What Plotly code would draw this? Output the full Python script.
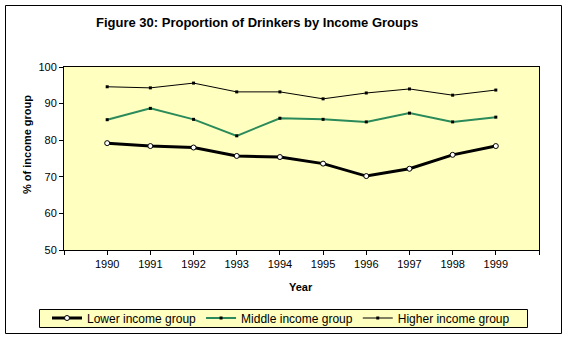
import plotly.graph_objects as go

years = [1990, 1991, 1992, 1993, 1994, 1995, 1996, 1997, 1998, 1999]
year_labels = [str(y) for y in years]
lower = [79.2, 78.4, 78.0, 75.7, 75.4, 73.6, 70.2, 72.2, 76.0, 78.4]
middle = [85.6, 88.7, 85.7, 81.2, 86.0, 85.7, 85.0, 87.4, 85.0, 86.3]
higher = [94.6, 94.3, 95.6, 93.2, 93.2, 91.3, 92.9, 94.0, 92.3, 93.7]
y_ticks = [50, 60, 70, 80, 90, 100]

FONT = "Liberation Sans, Arial, sans-serif"
W, H = 567, 340
L, R, T, B = 64, 539, 67, 250

def px(x):
    return (x - L) / (R - L)

def py(y):
    return (B - y) / (B - T)

fig = go.Figure()
fig.add_trace(go.Scatter(
    x=years, y=lower, name="Lower income group", mode="lines+markers",
    line=dict(color="black", width=3),
    marker=dict(symbol="circle", size=5, color="white", line=dict(color="black", width=1)),
))
fig.add_trace(go.Scatter(
    x=years, y=middle, name="Middle income group", mode="lines+markers",
    line=dict(color="#2a8a5a", width=2),
    marker=dict(symbol="square", size=3, color="black"),
))
fig.add_trace(go.Scatter(
    x=years, y=higher, name="Higher income group", mode="lines+markers",
    line=dict(color="black", width=1),
    marker=dict(symbol="square", size=3, color="black"),
))

fig.update_layout(
    width=W, height=H,
    margin=dict(l=L, r=W - R, t=T, b=H - B, autoexpand=False),
    paper_bgcolor="white",
    plot_bgcolor="#FFFFC0",
    font=dict(family=FONT, size=11, color="black"),
    showlegend=True,
    legend=dict(
        orientation="h", x=px(281), xanchor="center", y=py(318), yanchor="middle",
        bgcolor="rgba(0,0,0,0)", borderwidth=0,
        font=dict(family=FONT, size=12, color="black"),
        itemwidth=30, tracegroupgap=0,
    ),
    xaxis=dict(
        range=[1989, 2000],
        tickvals=[1989] + years + [2000],
        ticktext=[""] + year_labels + [""],
        ticks="outside", ticklen=4, tickcolor="black",
        showline=True, linecolor="black", linewidth=1, mirror=True,
        showgrid=False, zeroline=False,
        tickfont=dict(size=11),
    ),
    yaxis=dict(
        range=[50, 100],
        tickvals=y_ticks,
        ticks="outside", ticklen=4, tickcolor="black",
        showline=True, linecolor="black", linewidth=1, mirror=True,
        showgrid=False, zeroline=False,
        tickfont=dict(size=11),
    ),
    annotations=[
        dict(text="<b>Figure 30: Proportion of Drinkers by Income Groups</b>",
             xref="paper", yref="paper", x=px(257), y=py(23),
             xanchor="center", yanchor="middle", showarrow=False,
             font=dict(family=FONT, size=13)),
        dict(text="<b>% of income group</b>",
             xref="paper", yref="paper", x=px(27), y=py(145),
             xanchor="center", yanchor="middle", showarrow=False, textangle=-90,
             font=dict(family=FONT, size=11)),
        dict(text="<b>Year</b>",
             xref="paper", yref="paper", x=px(301), y=py(287),
             xanchor="center", yanchor="middle", showarrow=False,
             font=dict(family=FONT, size=11)),
    ],
    shapes=[
        dict(type="rect", xref="paper", yref="paper",
             x0=px(5.5), x1=px(561.5), y0=py(333.5), y1=py(5.5),
             line=dict(color="black", width=1), fillcolor="rgba(0,0,0,0)", layer="below"),
        dict(type="rect", xref="paper", yref="paper",
             x0=px(39.5), x1=px(527.5), y0=py(327.5), y1=py(309.5),
             line=dict(color="black", width=1), fillcolor="#FFFFC0", layer="below"),
    ],
)

fig.write_html("out.html")
